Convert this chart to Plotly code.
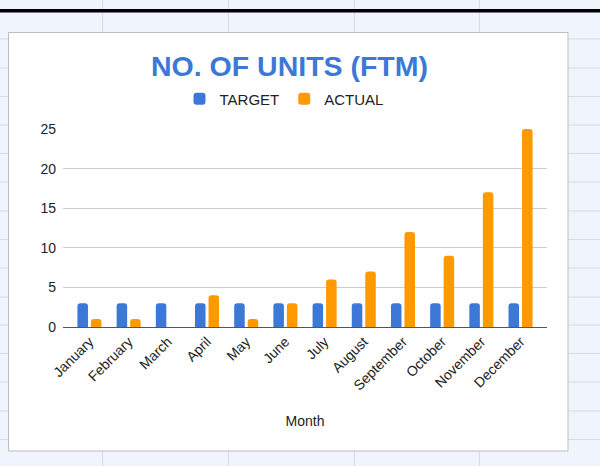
import plotly.graph_objects as go

months = ["January", "February", "March", "April", "May", "June", "July",
          "August", "September", "October", "November", "December"]
target = [3, 3, 3, 3, 3, 3, 3, 3, 3, 3, 3, 3]
actual = [1, 1, 0, 4, 1, 3, 6, 7, 12, 9, 17, 25]
y_ticks = [0, 5, 10, 15, 20, 25]

W, H = 600, 466
ML, MR, MT, MB = 63, 53, 129, 139
PW, PH = W - ML - MR, H - MT - MB


def xp(px):
    return (px - ML) / PW


def yp(py):
    return (H - MB - py) / PH


FONT = "Liberation Sans, Arial, sans-serif"
SHEET_BG = "#f0f4fc"
SHEET_LINE = "#d6dbe3"

fig = go.Figure()
fig.add_trace(go.Bar(name="TARGET", x=months, y=target, marker_color="#3c78d8",
                     marker_line_width=0))
fig.add_trace(go.Bar(name="ACTUAL", x=months, y=actual, marker_color="#ff9900",
                     marker_line_width=0))

shapes = []
# spreadsheet row lines
for ry in [39, 68, 96.5, 125, 153.5, 182, 211, 239.5, 268, 297, 325, 353.5, 382, 411, 439.5]:
    shapes.append(dict(type="line", xref="paper", yref="paper",
                       x0=xp(0), x1=xp(W), y0=yp(ry), y1=yp(ry),
                       line=dict(color=SHEET_LINE, width=1), layer="below"))
# spreadsheet column lines
for cx in [102.5, 228.5, 354.5, 479.5]:
    shapes.append(dict(type="line", xref="paper", yref="paper",
                       x0=xp(cx), x1=xp(cx), y0=yp(0), y1=yp(H),
                       line=dict(color=SHEET_LINE, width=1), layer="below"))
# thick black line
shapes.append(dict(type="rect", xref="paper", yref="paper",
                   x0=xp(0), x1=xp(W), y0=yp(9), y1=yp(12.5),
                   fillcolor="black", line=dict(width=0), layer="below"))
# chart box
shapes.append(dict(type="rect", xref="paper", yref="paper",
                   x0=xp(8.5), x1=xp(568), y0=yp(32.5), y1=yp(451),
                   fillcolor="white", line=dict(color="#bdbdbd", width=1), layer="below"))

fig.update_layout(
    width=W, height=H,
    margin=dict(l=ML, r=MR, t=MT, b=MB, pad=0),
    paper_bgcolor=SHEET_BG,
    plot_bgcolor="rgba(0,0,0,0)",
    font=dict(family=FONT, size=14, color="#222222"),
    title=dict(text="<b>NO. OF UNITS (FTM)</b>", x=289.5 / W, xanchor="center",
               y=1 - 66 / H, yanchor="middle", yref="container",
               font=dict(family=FONT, size=28.5, color="#3c78d8")),
    barmode="group",
    bargap=0.311,
    bargroupgap=0.22,
    barcornerradius=3,
    showlegend=True,
    legend=dict(orientation="h", x=xp(284), xanchor="center", y=yp(99), yanchor="middle",
                font=dict(family=FONT, size=15, color="#222222"),
                bgcolor="rgba(0,0,0,0)", itemclick=False),
    xaxis=dict(type="category", range=[-0.675, 11.675], tickangle=-45,
               showgrid=False, showline=True, linecolor="#555555", linewidth=1,
               ticks="", tickfont=dict(family=FONT, size=14, color="#222222"),
               title=dict(text="Month", standoff=23,
                          font=dict(family=FONT, size=14, color="#222222"))),
    yaxis=dict(range=[0, 25], tickvals=y_ticks, showgrid=True, gridcolor="#cccccc",
               gridwidth=1, zeroline=False, showline=False, ticks="",
               ticklabelstandoff=6,
               tickfont=dict(family=FONT, size=14, color="#222222")),
    shapes=shapes,
)

fig.write_html("out.html", config={"displayModeBar": False},
               post_script="document.body.style.margin='0';document.body.style.padding='0';")
